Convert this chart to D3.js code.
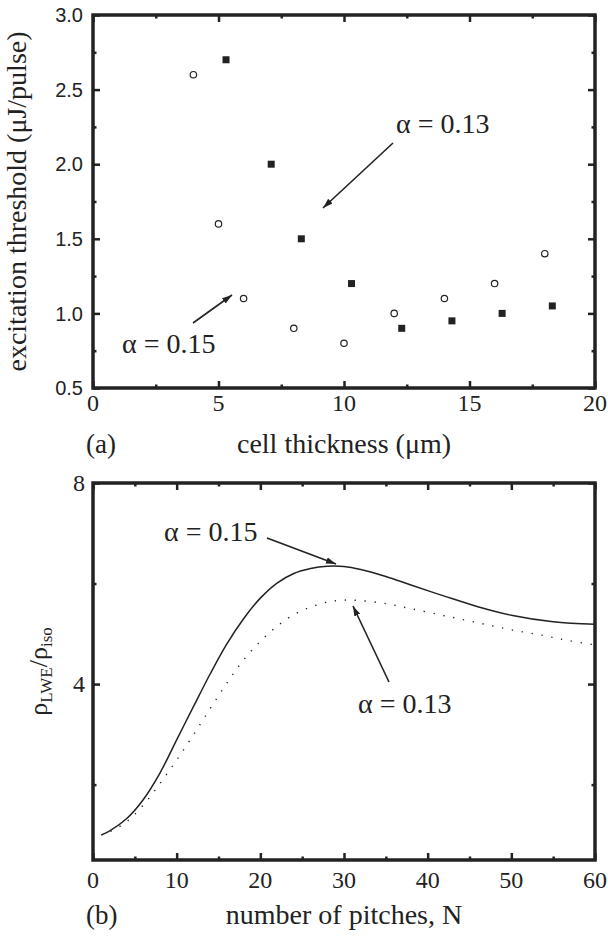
<!DOCTYPE html>
<html lang="en">
<head>
    <meta charset="UTF-8">
    <script src="https://cdn.jsdelivr.net/npm/d3@7"></script>
    <title>Threshold and LWE ratio</title>
    <style>
        body { margin: 0; background: #fff; }
        .serif { font-family: 'Liberation Serif', 'Times New Roman', serif; fill: #222; }
        .sans { font-family: 'Liberation Sans', Arial, sans-serif; fill: #222; }
        .frame { fill: none; stroke: #222; stroke-width: 3.5px; }
        .tick line { stroke: #222; }
        .domain { display: none; }
    </style>
</head>
<body>
    <div id="chart"></div>

    <script>
        // panel (a): excitation threshold vs cell thickness
        const thick015 = [4, 5, 6, 8, 10, 12, 14, 16, 18];
        const thresh015 = [2.6, 1.6, 1.1, 0.9, 0.8, 1.0, 1.1, 1.2, 1.4];
        const thick013 = [5.3, 7.1, 8.3, 10.3, 12.3, 14.3, 16.3, 18.3];
        const thresh013 = [2.7, 2.0, 1.5, 1.2, 0.9, 0.95, 1.0, 1.05];
        const xTicksA = [0, 5, 10, 15, 20];
        const xMinorA = [2.5, 7.5, 12.5, 17.5];
        const yTicksA = [0.5, 1.0, 1.5, 2.0, 2.5, 3.0];
        const yMinorA = [0.75, 1.25, 1.75, 2.25, 2.75];

        // panel (b): rho_LWE / rho_iso vs number of pitches
        const pitchN = [1, 2, 4, 6, 8, 10, 12, 14, 16, 18, 20, 22, 24, 26, 28, 30, 32, 35, 38, 42, 46, 50, 55, 60];
        const ratio015 = [1.0, 1.08, 1.32, 1.70, 2.23, 2.89, 3.55, 4.20, 4.80, 5.30, 5.71, 6.01, 6.20, 6.30, 6.345, 6.34, 6.28, 6.14, 5.97, 5.75, 5.54, 5.37, 5.24, 5.19];
        const pitchN013 = [1, 2, 4, 6, 8, 10, 12, 14, 16, 18, 20, 22, 24, 26, 28, 30, 32, 35, 38, 42, 46, 50, 54, 57, 60];
        const ratio013 = [1.0, 1.06, 1.26, 1.59, 2.02, 2.49, 2.99, 3.51, 4.02, 4.48, 4.85, 5.15, 5.38, 5.53, 5.63, 5.67, 5.66, 5.60, 5.50, 5.36, 5.22, 5.08, 4.96, 4.86, 4.78];
        const xTicksB = [0, 10, 20, 30, 40, 50, 60];
        const xMinorB = [5, 15, 25, 35, 45, 55];
        const yTicksB = [4, 8];
        const yMinorB = [2, 6];

        const width = 608, height = 939;
        const svg = d3.select("#chart").append("svg")
            .attr("width", width)
            .attr("height", height);

        svg.append("defs").append("marker")
            .attr("id", "head")
            .attr("viewBox", "0 0 10 10")
            .attr("refX", 10).attr("refY", 5)
            .attr("markerWidth", 10).attr("markerHeight", 10)
            .attr("markerUnits", "userSpaceOnUse")
            .attr("orient", "auto")
            .append("path")
            .attr("d", "M0,1.8L10,5L0,8.2Z")
            .attr("fill", "#222");

        const left = 93, right = 595;

        // inward ticks on all four sides
        function drawTicks(g, x, y, xs, ys, len, w) {
            const [x0, x1] = x.range();
            const [y0, y1] = y.range();
            g.append("g").attr("transform", `translate(0,${y0})`)
                .call(d3.axisBottom(x).tickValues(xs).tickSize(-len).tickFormat(""))
                .selectAll("line").attr("stroke-width", w);
            g.append("g").attr("transform", `translate(0,${y1})`)
                .call(d3.axisTop(x).tickValues(xs).tickSize(-len).tickFormat(""))
                .selectAll("line").attr("stroke-width", w);
            g.append("g").attr("transform", `translate(${x0},0)`)
                .call(d3.axisLeft(y).tickValues(ys).tickSize(-len).tickFormat(""))
                .selectAll("line").attr("stroke-width", w);
            g.append("g").attr("transform", `translate(${x1},0)`)
                .call(d3.axisRight(y).tickValues(ys).tickSize(-len).tickFormat(""))
                .selectAll("line").attr("stroke-width", w);
        }

        function arrow(x1, y1, x2, y2) {
            svg.append("line")
                .attr("x1", x1).attr("y1", y1).attr("x2", x2).attr("y2", y2)
                .attr("stroke", "#222").attr("stroke-width", 1.6)
                .attr("marker-end", "url(#head)");
        }

        function alphaLabel(x, y, val) {
            svg.append("text").attr("class", "serif")
                .attr("x", x).attr("y", y)
                .attr("font-family", "'Liberation Serif', serif")
                .attr("font-size", 28)
                .text("\u03b1 = " + val);
        }

        // ---------- panel (a) ----------
        const xA = d3.scaleLinear().domain([0, 20]).range([left, right]);
        const yA = d3.scaleLinear().domain([0.5, 3.0]).range([388, 15]);
        const gA = svg.append("g");

        drawTicks(gA, xA, yA, xTicksA, yTicksA, 7, 2.5);
        drawTicks(gA, xA, yA, xMinorA, yMinorA, 3.5, 2.5);
        gA.append("rect").attr("class", "frame")
            .attr("x", left).attr("y", 15)
            .attr("width", right - left).attr("height", 388 - 15);

        gA.selectAll(".ylabA").data(yTicksA).enter().append("text")
            .attr("class", "sans")
            .attr("x", 83).attr("y", d => yA(d))
            .attr("dy", "0.36em")
            .attr("text-anchor", "end")
            .attr("font-size", 20)
            .text(d => d.toFixed(1));
        gA.selectAll(".xlabA").data(xTicksA).enter().append("text")
            .attr("class", "serif")
            .attr("x", d => xA(d)).attr("y", 411)
            .attr("text-anchor", "middle")
            .attr("font-size", 24)
            .text(d => d);

        gA.selectAll("circle").data(thick015).enter().append("circle")
            .attr("cx", d => xA(d))
            .attr("cy", (d, i) => yA(thresh015[i]))
            .attr("r", 3.2)
            .attr("fill", "none").attr("stroke", "#222").attr("stroke-width", 1.2);
        gA.selectAll(".sq").data(thick013).enter().append("rect")
            .attr("x", d => xA(d) - 3.5)
            .attr("y", (d, i) => yA(thresh013[i]) - 3.5)
            .attr("width", 7).attr("height", 7)
            .attr("fill", "#222");

        svg.append("text").attr("class", "serif")
            .attr("transform", `translate(26,${(15 + 388) / 2}) rotate(-90)`)
            .attr("text-anchor", "middle")
            .attr("font-size", 28)
            .text("excitation threshold (\u03bcJ/pulse)");
        svg.append("text").attr("class", "serif")
            .attr("x", (left + right) / 2).attr("y", 453)
            .attr("text-anchor", "middle")
            .attr("font-size", 28)
            .text("cell thickness (\u03bcm)");
        svg.append("text").attr("class", "serif")
            .attr("x", 86).attr("y", 453)
            .attr("font-size", 27)
            .text("(a)");

        alphaLabel(396, 133, "0.13");
        arrow(393, 143, 323, 208);
        alphaLabel(122, 353, "0.15");
        arrow(193, 323, 232, 295);

        // ---------- panel (b) ----------
        const xB = d3.scaleLinear().domain([0, 60]).range([left, right]);
        const yB = d3.scaleLinear().domain([0.5, 8]).range([860, 483]);
        const gB = svg.append("g");

        drawTicks(gB, xB, yB, xTicksB, yTicksB, 7, 2.5);
        drawTicks(gB, xB, yB, xMinorB, yMinorB, 3.5, 2.5);
        gB.append("rect").attr("class", "frame")
            .attr("x", left).attr("y", 483)
            .attr("width", right - left).attr("height", 860 - 483);

        gB.selectAll(".ylabB").data(yTicksB).enter().append("text")
            .attr("class", "serif")
            .attr("x", 85).attr("y", d => yB(d))
            .attr("dy", "0.34em")
            .attr("text-anchor", "end")
            .attr("font-size", 24)
            .text(d => d);
        gB.selectAll(".xlabB").data(xTicksB).enter().append("text")
            .attr("class", "serif")
            .attr("x", d => xB(d)).attr("y", 888)
            .attr("text-anchor", "middle")
            .attr("font-size", 24)
            .text(d => d);

        const line = d3.line()
            .x(d => xB(d[0]))
            .y(d => yB(d[1]))
            .curve(d3.curveCatmullRom.alpha(0.5));

        gB.append("path")
            .attr("d", line(pitchN.map((n, i) => [n, ratio015[i]])))
            .attr("fill", "none").attr("stroke", "#222").attr("stroke-width", 1.5);
        gB.append("path")
            .attr("d", line(pitchN013.map((n, i) => [n, ratio013[i]])))
            .attr("fill", "none").attr("stroke", "#222").attr("stroke-width", 1.4)
            .attr("stroke-dasharray", "1.3,8.7");

        const yTitle = svg.append("text").attr("class", "serif")
            .attr("transform", `translate(47,${(483 + 860) / 2}) rotate(-90)`)
            .attr("text-anchor", "middle")
            .attr("font-size", 26);
        yTitle.append("tspan").text("\u03c1");
        yTitle.append("tspan").attr("font-size", 17).attr("dy", 5).text("LWE");
        yTitle.append("tspan").attr("dy", -5).text("/\u03c1");
        yTitle.append("tspan").attr("font-size", 17).attr("dy", 5).text("iso");

        svg.append("text").attr("class", "serif")
            .attr("x", (left + right) / 2).attr("y", 924)
            .attr("text-anchor", "middle")
            .attr("font-size", 28)
            .text("number of pitches, N");
        svg.append("text").attr("class", "serif")
            .attr("x", 86).attr("y", 924)
            .attr("font-size", 27)
            .text("(b)");

        alphaLabel(164, 541, "0.15");
        arrow(267, 538, 336, 564);
        alphaLabel(358, 713, "0.13");
        arrow(389, 682, 353, 606);
    </script>
</body>
</html>
